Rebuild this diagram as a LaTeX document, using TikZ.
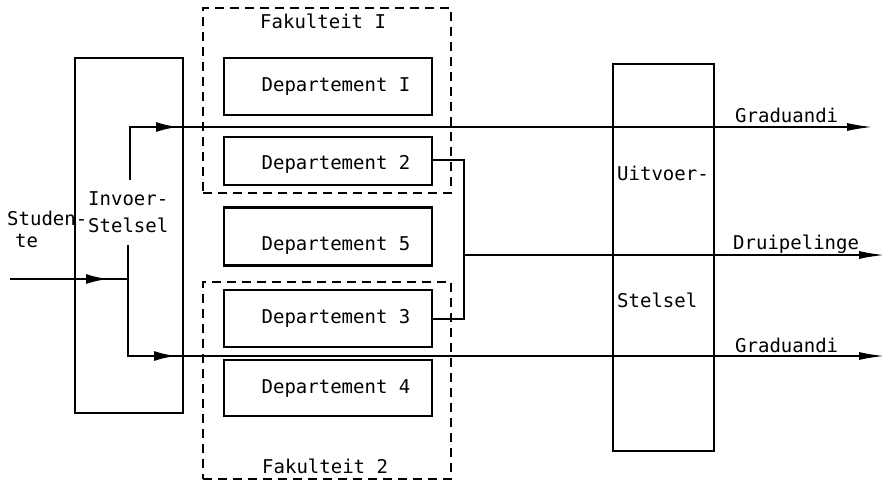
\documentclass[tikz,border=0pt]{standalone}
\usepackage{fontspec}
\setmainfont{DejaVu Sans Mono}
\usetikzlibrary{arrows.meta,decorations.markings}
\tikzset{
  box/.style={draw, line width=2.8pt, inner sep=0pt},
  dept/.style={box, minimum width=208pt, font=\fontsize{19}{23}\selectfont, text height=14pt, text depth=5pt},
  fak/.style={draw, line width=1.9pt, dash pattern=on 9pt off 6pt, inner sep=0pt},
  flow/.style={line width=2pt},
  endtip/.style={-{Latex[length=26pt,width=8pt]}},
  arrowat/.style={postaction={decorate},decoration={markings,mark=at position #1 with {\arrow{Latex[length=22pt,width=10pt]}}}},
  txt/.style={anchor=base west, inner sep=0pt, font=\fontsize{19}{23}\selectfont},
}
\begin{document}
\begin{tikzpicture}[x=1pt,y=-1pt]
\useasboundingbox (0,0) rectangle (891,483);
% faculty boxes
\node[fak, minimum width=248pt, minimum height=185pt] (fak1) at (327,100.5) {};
\node[fak, minimum width=248pt, minimum height=197pt] (fak2) at (327,380.5) {};
\node[txt] (fak1l) at (260,28) {Fakulteit I};
\node[txt] (fak2l) at (262,473) {Fakulteit 2};
% departments
\node[dept, minimum height=57pt, text height=15pt] (d1) at (328,86.5) {\kern16pt Departement I};
\node[dept, minimum height=48pt, text height=22pt] (d2) at (328,161) {\kern16pt Departement 2};
\node[dept, minimum height=58pt, text height=41pt, text depth=14pt] (d5) at (328,236.5) {\kern16pt Departement 5};
\node[dept, minimum height=57pt, text height=15pt] (d3) at (328,318.5) {\kern16pt Departement 3};
\node[dept, minimum height=56pt, text height=15pt] (d4) at (328,388) {\kern16pt Departement 4};
% input / output systems
\node[box, minimum width=108pt, minimum height=355pt] (inv) at (129,235.5) {};
\node[txt] (invl1) at (88,205) {Invoer-};
\node[txt] (invl2) at (88,232) {Stelsel};
\node[box, minimum width=101pt, minimum height=387pt] (uit) at (663.5,257.5) {};
\node[txt] (uitl1) at (617,180) {Uitvoer-};
\node[txt] (uitl2) at (617,307) {Stelsel};
% student input
\node[txt, align=left] (stu) at (7,247) {Studen-\\[-1pt]\hspace*{8pt}te};
\coordinate (s0) at (10,279);
\coordinate (sj) at (128,279);
\draw[flow, arrowat=98pt] (s0) -- (sj);
% upper branch
\coordinate (u0) at (130,180);
\coordinate (u1) at (130,127);
\coordinate (u2) at (873,127);
\draw[flow, endtip, arrowat=101pt] (u0) -- (u1) -- (u2);
% lower branch
\coordinate (l0) at (128,245);
\coordinate (l1) at (128,356);
\coordinate (l2) at (885,356);
\draw[flow, endtip, arrowat=159pt] (l0) -- (l1) -- (l2);
% failing students connector
\coordinate (c1) at (464,160);
\coordinate (c2) at (464,319);
\coordinate (c3) at (464,255);
\coordinate (c4) at (885,255);
\draw[flow] (d2.east |- c1) -- (c1) -- (c2) -- (d3.east |- c2);
\draw[flow, endtip] (c3) -- (c4);
% output labels
\node[txt] (gr1) at (735,122) {Graduandi};
\node[txt] (dr) at (733,249) {Druipelinge};
\node[txt] (gr2) at (735,352) {Graduandi};
\end{tikzpicture}
\end{document}
